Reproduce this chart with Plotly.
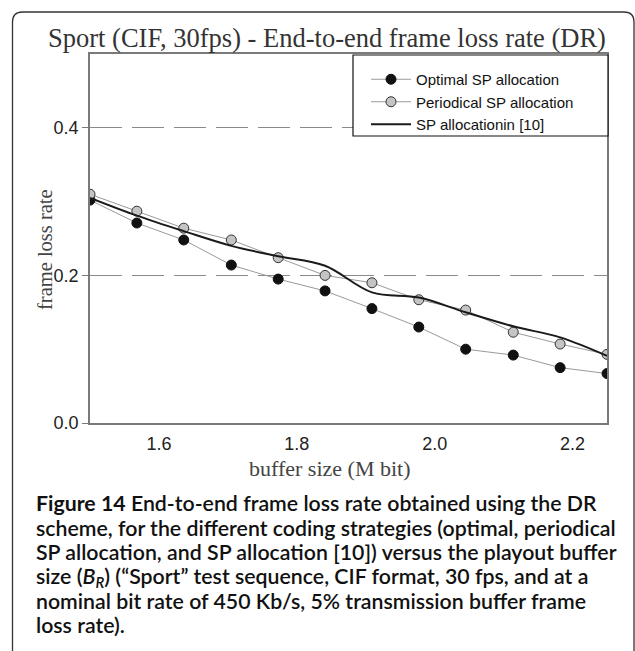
import plotly.graph_objects as go

# buffer size (Mbit)
buffer_size = [1.500, 1.568, 1.636, 1.705, 1.773, 1.841, 1.909, 1.977, 2.045, 2.114, 2.182, 2.250]

# end-to-end frame loss rate
optimal = [0.302, 0.271, 0.248, 0.214, 0.195, 0.179, 0.155, 0.130, 0.100, 0.092, 0.075, 0.067]
periodical = [0.310, 0.287, 0.264, 0.248, 0.224, 0.200, 0.190, 0.167, 0.153, 0.123, 0.107, 0.093]
sp_ref10 = [0.305, 0.281, 0.260, 0.240, 0.226, 0.213, 0.177, 0.170, 0.150, 0.131, 0.116, 0.091]

names = ["Optimal SP allocation", "Periodical SP allocation", "SP allocationin [10]"]

title_text = "Sport (CIF, 30fps) - End-to-end frame loss rate (DR)"
caption_lines = [
    "<b>Figure 14</b> End-to-end frame loss rate obtained using the DR",
    "scheme, for the different coding strategies (optimal, periodical",
    "SP allocation, and SP allocation [10]) versus the playout buffer",
    "size (<i>B</i><sub><i>R</i></sub>) (\u201cSport\u201d test sequence, CIF format, 30 fps, and at a",
    "nominal bit rate of 450 Kb/s, 5% transmission buffer frame",
    "loss rate).",
]

W, H = 635, 651
L, R, T, B = 90, 607, 54, 423


def px(x):
    return (x - L) / (R - L)


def py(y):
    return (B - y) / (B - T)


fig = go.Figure()

fig.add_trace(go.Scatter(
    x=buffer_size, y=optimal, name=names[0], mode="lines+markers",
    line=dict(color="#9a9a9a", width=1),
    marker=dict(size=10, color="#111111", line=dict(color="#111111", width=1)),
    legendgroup="a",
))
fig.add_trace(go.Scatter(
    x=buffer_size, y=periodical, name=names[1], mode="lines+markers",
    line=dict(color="#9a9a9a", width=1),
    marker=dict(size=10, color="#c4c4c4", line=dict(color="#333333", width=1)),
    legendgroup="b",
))
fig.add_trace(go.Scatter(
    x=buffer_size, y=sp_ref10, name=names[2], mode="lines",
    line=dict(color="#1a1a1a", width=2, shape="spline", smoothing=1.0),
    legendgroup="c",
))

sans = "Liberation Sans, Arial, sans-serif"
serif = "Liberation Serif, Times New Roman, serif"

fig.update_xaxes(
    range=[1.5, 2.25], tickvals=[1.6, 1.8, 2.0, 2.2], ticktext=["1.6", "1.8", "2.0", "2.2"],
    showgrid=False, zeroline=False, showline=True, linecolor="#7a7a7a", linewidth=1.5,
    mirror=True, ticks="outside", ticklen=4, tickcolor="rgba(0,0,0,0)",
    tickfont=dict(family=sans, size=18, color="#222"),
)
fig.update_yaxes(
    range=[0, 0.5], tickvals=[0.0, 0.2, 0.4], ticktext=["0.0", "0.2", "0.4"],
    showgrid=True, gridcolor="#8a8a8a", gridwidth=1, griddash="32px,10px",
    zeroline=False, showline=True, linecolor="#7a7a7a", linewidth=1.5,
    mirror=True, ticks="outside", ticklen=6, tickcolor="#7a7a7a",
    tickfont=dict(family=sans, size=18, color="#222"),
)

shapes = [
    # legend box
    dict(type="rect", xref="paper", yref="paper",
         x0=px(353), x1=px(608), y0=py(136), y1=py(55),
         line=dict(color="#111", width=1.2), fillcolor="white", layer="above"),
    # outer rounded frame
    dict(type="path", xref="paper", yref="paper",
         path=(f"M {px(12.5)} {py(660)} L {px(12.5)} {py(22)} "
               f"Q {px(12.5)} {py(12)} {px(22.5)} {py(12)} "
               f"L {px(624)} {py(12)} Q {px(634)} {py(12)} {px(634)} {py(22)} "
               f"L {px(634)} {py(660)}"),
         line=dict(color="#333", width=1.3)),
]

annotations = [
    dict(text=title_text, x=px(327), y=py(38), xref="paper", yref="paper",
         showarrow=False, xanchor="center", yanchor="middle",
         font=dict(family=serif, size=26.5, color="#333")),
    dict(text="frame loss rate", x=px(45), y=py(250), xref="paper", yref="paper",
         showarrow=False, textangle=-90, xanchor="center", yanchor="middle",
         font=dict(family=serif, size=20.5, color="#444")),
    dict(text="buffer size (M bit)", x=px(330), y=py(468), xref="paper", yref="paper",
         showarrow=False, xanchor="center", yanchor="middle",
         font=dict(family=serif, size=22, color="#444")),
]

cap_y = [503, 527.5, 552, 576.5, 601, 625]
for line, yy in zip(caption_lines, cap_y):
    annotations.append(dict(
        text=line, x=px(34), y=py(yy), xref="paper", yref="paper",
        showarrow=False, xanchor="left", yanchor="middle",
        font=dict(family="Lato, Noto Sans, sans-serif", size=21.3, color="#111", weight=600),
    ))

fig.update_layout(
    width=W, height=H,
    margin=dict(l=L, r=W - R, t=T, b=H - B),
    paper_bgcolor="white", plot_bgcolor="white",
    showlegend=True,
    legend=dict(x=px(366), y=py(63), xanchor="left", yanchor="top",
                bgcolor="rgba(0,0,0,0)", borderwidth=0,
                font=dict(family=sans, size=15, color="#111"),
                traceorder="grouped", tracegroupgap=0, itemwidth=40),
    shapes=shapes, annotations=annotations,
)

fig.write_html("out.html", config={"displayModeBar": False},
               post_script="document.body.style.margin='0';")
